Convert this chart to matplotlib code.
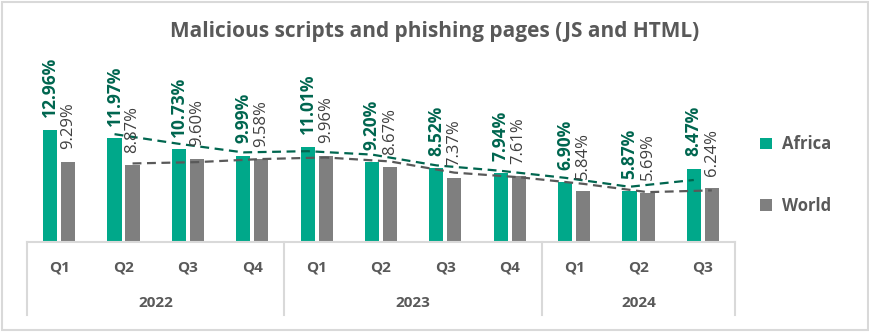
import matplotlib.pyplot as plt
import numpy as np
from matplotlib.patches import FancyBboxPatch

# data
quarters = ['Q1', 'Q2', 'Q3', 'Q4', 'Q1', 'Q2', 'Q3', 'Q4', 'Q1', 'Q2', 'Q3']
years = ['2022', '2023', '2024']
year_counts = [4, 4, 3]
africa = [12.96, 11.97, 10.73, 9.99, 11.01, 9.20, 8.52, 7.94, 6.90, 5.87, 8.47]
world = [9.29, 8.87, 9.60, 9.58, 9.96, 8.67, 7.37, 7.61, 5.84, 5.69, 6.24]

GREEN = '#00A88A'
GREEN_DARK = '#00664F'
GRAY = '#7F7F7F'
TXT = '#595959'
GRID = '#D9D9D9'

plt.rcParams['font.family'] = ['Open Sans', 'DejaVu Sans']

W, H = 870, 332
fig = plt.figure(figsize=(W / 100, H / 100), dpi=100)

# outer border
fig.patches.append(FancyBboxPatch((2 / W, 2 / H), (W - 4) / W, (H - 4) / H,
                                  boxstyle='square,pad=0', transform=fig.transFigure,
                                  fill=False, edgecolor=GRID, linewidth=1.5))

left, right, base, top = 27, 735, 242, 50
ax = fig.add_axes([left / W, (H - base) / H, (right - left) / W, (base - top) / H])
px_per = 8.65
ax.set_ylim(0, (base - top) / px_per)
ax.set_xlim(-0.5, len(quarters) - 0.5)

x = np.arange(len(quarters))
bw = 0.22
off = 0.14
ax.bar(x - off, africa, bw, color=GREEN, label='Africa', zorder=2)
ax.bar(x + off, world, bw, color=GRAY, label='World', zorder=2)

# 2-period moving average trend lines
a = np.array(africa)
w = np.array(world)
ma_a = (a[1:] + a[:-1]) / 2
ma_w = (w[1:] + w[:-1]) / 2
ax.plot(x[1:] - off, ma_a, color=GREEN_DARK, ls=(0, (4, 2.5)), lw=1.6, zorder=3)
ax.plot(x[1:] + off, ma_w, color='#595959', ls=(0, (4, 2.5)), lw=1.6, zorder=3)

for xi, v in zip(x, africa):
    ax.annotate('{:.2f}%'.format(v), (xi - off, v), xytext=(0, 9),
                textcoords='offset points', rotation=90, ha='center', va='bottom',
                fontsize=12.5, fontweight='bold', color=GREEN_DARK)
for xi, v in zip(x, world):
    ax.annotate('{:.2f}%'.format(v), (xi + off, v), xytext=(0, 9),
                textcoords='offset points', rotation=90, ha='center', va='bottom',
                fontsize=12, color='#404040')

for s in ['top', 'right', 'left']:
    ax.spines[s].set_visible(False)
ax.spines['bottom'].set_color(GRID)
ax.spines['bottom'].set_linewidth(1.5)
ax.set_yticks([])
ax.set_xticks([])

# multi-level category axis
def fy(py):
    return (H - py) / H

def fx(px):
    return px / W

cat_w = (right - left) / len(quarters)
for i, q in enumerate(quarters):
    fig.text(fx(left + cat_w * (i + 0.5)), fy(268), q, ha='center', va='center',
             fontsize=11, fontweight='bold', color=TXT)

start = 0
seps = [left]
for yr, n in zip(years, year_counts):
    cx = left + cat_w * (start + n / 2)
    fig.text(fx(cx), fy(303), yr, ha='center', va='center',
             fontsize=11, fontweight='bold', color=TXT)
    start += n
    seps.append(left + cat_w * start)
for sx in seps:
    fig.add_artist(plt.Line2D([fx(sx), fx(sx)], [fy(base), fy(315)],
                              transform=fig.transFigure, color=GRID, lw=1.5))

fig.text(0.5, fy(32), 'Malicious scripts and phishing pages (JS and HTML)',
         ha='center', va='center', fontsize=15, fontweight='bold', color=TXT)

leg = fig.legend(loc='center left', bbox_to_anchor=(745 / W, fy(175)), frameon=False,
                 handlelength=0.7, handleheight=0.7, handletextpad=0.6, labelspacing=2.6,
                 prop={'size': 12, 'weight': 'bold'})
for t in leg.get_texts():
    t.set_color(TXT)

fig.savefig('out.png', dpi=100)
